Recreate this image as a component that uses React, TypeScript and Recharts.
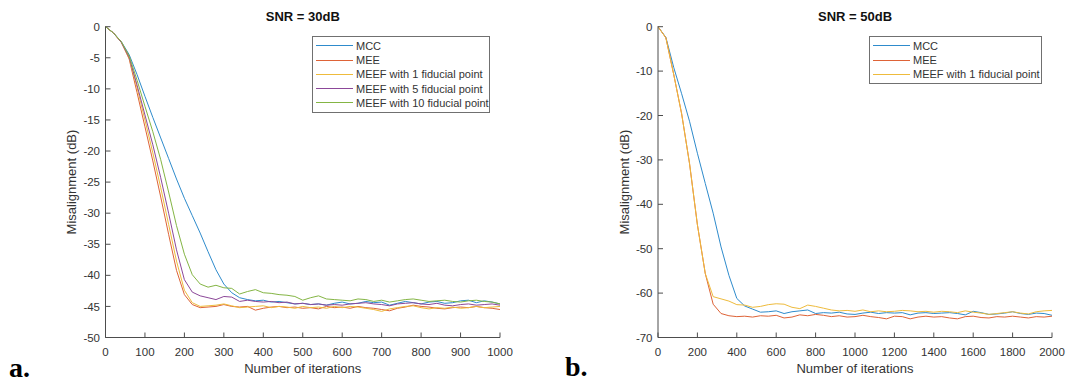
import React from 'react'
import { LineChart, Line, XAxis, YAxis, Legend } from 'recharts'

// ---- panel a: SNR = 30dB ----
const itersA = [
  0, 20, 40, 60, 80, 100, 120, 140, 160, 180, 200, 220, 240, 260, 280, 300, 320, 340, 360, 380,
  400, 420, 440, 460, 480, 500, 520, 540, 560, 580, 600, 620, 640, 660, 680, 700, 720, 740, 760, 780,
  800, 820, 840, 860, 880, 900, 920, 940, 960, 980, 1000,
]
const mccA = [
  0, -1.0, -2.4, -4.5, -7.7, -11.2, -14.6, -17.9, -21.2, -24.5, -27.6, -30.4, -33.2, -36.2, -39.1, -41.4, -42.8, -43.6, -43.9, -44.1,
  -44.0, -44.3, -44.2, -44.4, -44.6, -44.5, -44.7, -44.6, -44.8, -44.5, -44.3, -44.6, -44.5, -44.2, -44.4, -44.3, -44.8, -44.5, -44.2, -44.4,
  -44.6, -44.3, -44.2, -44.5, -44.4, -44.1, -44.0, -44.4, -44.1, -44.3, -44.6,
]
const meeA = [
  0, -1.0, -2.5, -5.2, -10.6, -16.1, -21.6, -27.4, -33.4, -39.2, -43.1, -44.7, -45.2, -45.1, -45.0, -44.7, -45.0, -45.1, -45.0, -45.6,
  -45.3, -45.1, -45.0, -45.2, -45.1, -45.3, -45.2, -45.4, -45.0, -45.2, -45.1, -45.3, -45.0, -45.2, -45.3, -45.5, -45.7, -45.3, -45.1, -44.8,
  -45.0, -45.1, -45.3, -45.4, -45.2, -45.1, -45.2, -45.0, -45.2, -45.3, -45.5,
]
const meef1A = [
  0, -1.0, -2.5, -5.0, -9.8, -15.0, -20.3, -25.9, -31.8, -37.7, -42.4, -44.4, -45.0, -44.9, -44.8, -44.6, -44.9, -45.2, -45.1, -45.0,
  -44.9, -45.2, -45.0, -45.1, -45.3, -45.0, -45.2, -45.1, -45.3, -45.0, -45.2, -45.0, -45.1, -45.3, -45.5, -45.8, -45.4, -45.2, -45.0, -44.9,
  -45.2, -45.4, -45.2, -45.3, -45.1, -45.3, -45.2, -45.0, -45.2, -45.1, -45.0,
]
const meef5A = [
  0, -1.0, -2.5, -4.9, -9.4, -14.2, -19.0, -24.3, -30.0, -35.9, -40.7, -42.7, -43.3, -43.6, -43.9, -43.4, -43.5, -44.2, -44.0, -44.2,
  -44.3, -44.2, -44.4, -44.3, -44.6, -44.5, -44.7, -44.6, -44.8, -44.7, -44.8, -44.6, -44.5, -44.4, -44.6, -44.7, -44.9, -44.6, -44.5, -44.4,
  -44.6, -44.7, -44.5, -44.8, -44.9, -44.7, -44.6, -44.8, -44.7, -44.6, -44.8,
]
const meef10A = [
  0, -1.0, -2.4, -4.7, -8.6, -12.8, -16.9, -21.4, -26.6, -32.0, -36.6, -39.9, -41.4, -41.9, -41.6, -42.0, -42.1, -43.0, -42.6, -42.3,
  -42.8, -42.9, -43.1, -43.2, -43.4, -44.0, -43.6, -43.3, -43.8, -43.9, -44.0, -44.1, -43.8, -43.9, -44.2, -44.0, -44.3, -44.1, -43.9, -43.8,
  -44.0, -44.2, -44.1, -44.0, -44.2, -44.3, -44.1, -44.0, -44.2, -44.3, -44.6,
]
const xTicksA = [0, 100, 200, 300, 400, 500, 600, 700, 800, 900, 1000]
const yTicksA = [0, -5, -10, -15, -20, -25, -30, -35, -40, -45, -50]

// ---- panel b: SNR = 50dB ----
const itersB = [
  0, 40, 80, 120, 160, 200, 240, 280, 320, 360, 400, 440, 480, 520, 560, 600, 640, 680, 720, 760,
  800, 840, 880, 920, 960, 1000, 1040, 1080, 1120, 1160, 1200, 1240, 1280, 1320, 1360, 1400, 1440, 1480, 1520, 1560,
  1600, 1640, 1680, 1720, 1760, 1800, 1840, 1880, 1920, 1960, 2000,
]
const mccB = [
  0, -2.4, -9.2, -15.1, -21.3, -28.5, -35.3, -42.0, -49.6, -56.0, -61.2, -62.9, -63.6, -64.3, -64.2, -64.0, -64.6, -64.2, -64.0, -63.8,
  -64.6, -64.4, -64.5, -64.3, -64.7, -64.8, -64.5, -64.3, -64.6, -64.4, -64.5, -64.4, -64.9, -64.5, -64.4, -64.6, -64.5, -64.4, -64.6, -64.9,
  -64.1, -64.4, -64.8, -64.7, -64.5, -64.2, -64.6, -64.8, -64.5, -64.6, -65.0,
]
const meeB = [
  0, -2.5, -10.8, -19.6, -30.8, -44.6, -55.6, -62.5, -64.6, -65.1, -65.3, -65.2, -65.4, -65.1, -65.2, -65.0, -65.6, -65.4, -64.9, -65.1,
  -64.8, -65.0, -65.3, -65.1, -65.4, -65.3, -65.0, -65.3, -65.5, -65.8, -65.2, -65.3, -65.8, -65.4, -65.2, -65.4, -65.3, -65.6, -65.8, -65.3,
  -65.2, -65.5, -65.6, -65.3, -65.4, -65.2, -65.4, -65.6, -65.3, -65.4, -65.2,
]
const meef1B = [
  0, -2.5, -10.8, -19.6, -30.8, -44.6, -55.6, -60.8, -61.3, -61.8, -62.6, -62.7, -63.2, -63.0, -62.6, -62.4, -62.5, -63.2, -63.5, -62.7,
  -63.0, -63.4, -63.8, -64.0, -63.9, -64.1, -63.8, -64.2, -64.0, -64.2, -64.1, -63.9, -64.0, -64.2, -64.1, -64.3, -64.1, -64.2, -64.4, -64.0,
  -64.3, -64.5, -64.8, -64.6, -64.4, -64.2, -64.5, -64.7, -64.2, -64.0, -63.9,
]
const xTicksB = [0, 200, 400, 600, 800, 1000, 1200, 1400, 1600, 1800, 2000]
const yTicksB = [0, -10, -20, -30, -40, -50, -60, -70]

const dataA = itersA.map((it, i) => ({
  it,
  mcc: mccA[i],
  mee: meeA[i],
  meef1: meef1A[i],
  meef5: meef5A[i],
  meef10: meef10A[i],
}))
const dataB = itersB.map((it, i) => ({ it, mcc: mccB[i], mee: meeB[i], meef1: meef1B[i] }))

const FONT = '"Liberation Sans", Arial, sans-serif'
const INK = '#333333'
const AXIS = '#4d4d4d'
// matlab default order, a touch lighter since the source lines are thin
const C = {
  mcc: '#2e8bcc',
  mee: '#de6337',
  meef1: '#eebb3c',
  meef5: '#8c4899',
  meef10: '#84b544',
}

// matlab-ish boxed legend
function BoxLegend(props: any) {
  const items = props.payload || []
  return (
    <div
      style={{
        border: '1px solid #707070',
        background: '#fff',
        padding: '2px 0',
        boxSizing: 'border-box',
        fontFamily: FONT,
      }}
    >
      {items.map((p: any) => (
        <div key={p.value} style={{ display: 'flex', alignItems: 'center', height: 14.25 }}>
          <span style={{ display: 'inline-block', marginLeft: 3, width: 37, borderTop: `1px solid ${p.color}` }} />
          <span style={{ marginLeft: 3, fontSize: 11, color: INK, whiteSpace: 'nowrap', lineHeight: '14px' }}>
            {p.value}
          </span>
        </div>
      ))}
    </div>
  )
}

const axisProps = {
  stroke: AXIS,
  tick: { fill: INK, fontSize: 11.5, fontFamily: FONT },
  tickLine: { stroke: AXIS },
  tickSize: -5,
  interval: 0 as const,
}

export default function App() {
  return (
    <div style={{ position: 'absolute', left: 0, top: 0, width: 1071, height: 383, background: '#fff', fontFamily: FONT }}>
      <svg width={1071} height={383} style={{ position: 'absolute', left: 0, top: 0 }}>
        <g fontFamily={FONT} fill={INK}>
          <text x={302.75} y={20.5} fontSize={13} fontWeight="bold" textAnchor="middle" fill="#111">SNR = 30dB</text>
          <text x={855} y={20.5} fontSize={13} fontWeight="bold" textAnchor="middle" fill="#111">SNR = 50dB</text>
          <text x={302.75} y={372.5} fontSize={13} textAnchor="middle">Number of iterations</text>
          <text x={855} y={372.5} fontSize={13} textAnchor="middle">Number of iterations</text>
          <text x={76} y={182} fontSize={13} textAnchor="middle" transform="rotate(-90 76 182)">Misalignment (dB)</text>
          <text x={628.5} y={182} fontSize={13} textAnchor="middle" transform="rotate(-90 628.5 182)">Misalignment (dB)</text>
        </g>
        <g fontFamily='"Liberation Serif", "DejaVu Serif", serif' fontWeight="bold" fill="#000" fontSize={28}>
          <text x={9} y={377}>a.</text>
          <text x={565} y={376}>b.</text>
        </g>
      </svg>

      <div style={{ position: 'absolute', left: 0, top: 0 }}>
        <LineChart width={540} height={383} data={dataA} margin={{ top: 26.7, right: 40, bottom: 15.5, left: 55.5 }}>
          <XAxis dataKey="it" type="number" domain={[0, 1000]} ticks={xTicksA} height={30} tickMargin={15} {...axisProps} />
          <YAxis type="number" domain={[-50, 0]} ticks={yTicksA} width={50} tickMargin={10.5} {...axisProps} />
          <Legend
            layout="vertical"
            align="center"
            verticalAlign="middle"
            width={178}
            itemSorter={null}
            wrapperStyle={{ left: 312, top: 35.7 }}
            content={BoxLegend}
          />
          <Line dataKey="mcc" name="MCC" stroke={C.mcc} strokeWidth={1} dot={false} isAnimationActive={false} />
          <Line dataKey="mee" name="MEE" stroke={C.mee} strokeWidth={1} dot={false} isAnimationActive={false} />
          <Line dataKey="meef1" name="MEEF with 1 fiducial point" stroke={C.meef1} strokeWidth={1} dot={false} isAnimationActive={false} />
          <Line dataKey="meef5" name="MEEF with 5 fiducial point" stroke={C.meef5} strokeWidth={1} dot={false} isAnimationActive={false} />
          <Line dataKey="meef10" name="MEEF with 10 fiducial point" stroke={C.meef10} strokeWidth={1} dot={false} isAnimationActive={false} />
        </LineChart>
      </div>

      <div style={{ position: 'absolute', left: 540, top: 0 }}>
        <LineChart width={531} height={383} data={dataB} margin={{ top: 26.7, right: 19, bottom: 15.5, left: 68 }}>
          <XAxis dataKey="it" type="number" domain={[0, 2000]} ticks={xTicksB} height={30} tickMargin={15} {...axisProps} />
          <YAxis type="number" domain={[-70, 0]} ticks={yTicksB} width={50} tickMargin={10.5} {...axisProps} />
          <Legend
            layout="vertical"
            align="center"
            verticalAlign="middle"
            width={173}
            itemSorter={null}
            wrapperStyle={{ left: 329, top: 35.7 }}
            content={BoxLegend}
          />
          <Line dataKey="mcc" name="MCC" stroke={C.mcc} strokeWidth={1} dot={false} isAnimationActive={false} />
          <Line dataKey="mee" name="MEE" stroke={C.mee} strokeWidth={1} dot={false} isAnimationActive={false} />
          <Line dataKey="meef1" name="MEEF with 1 fiducial point" stroke={C.meef1} strokeWidth={1} dot={false} isAnimationActive={false} />
        </LineChart>
      </div>
    </div>
  )
}
